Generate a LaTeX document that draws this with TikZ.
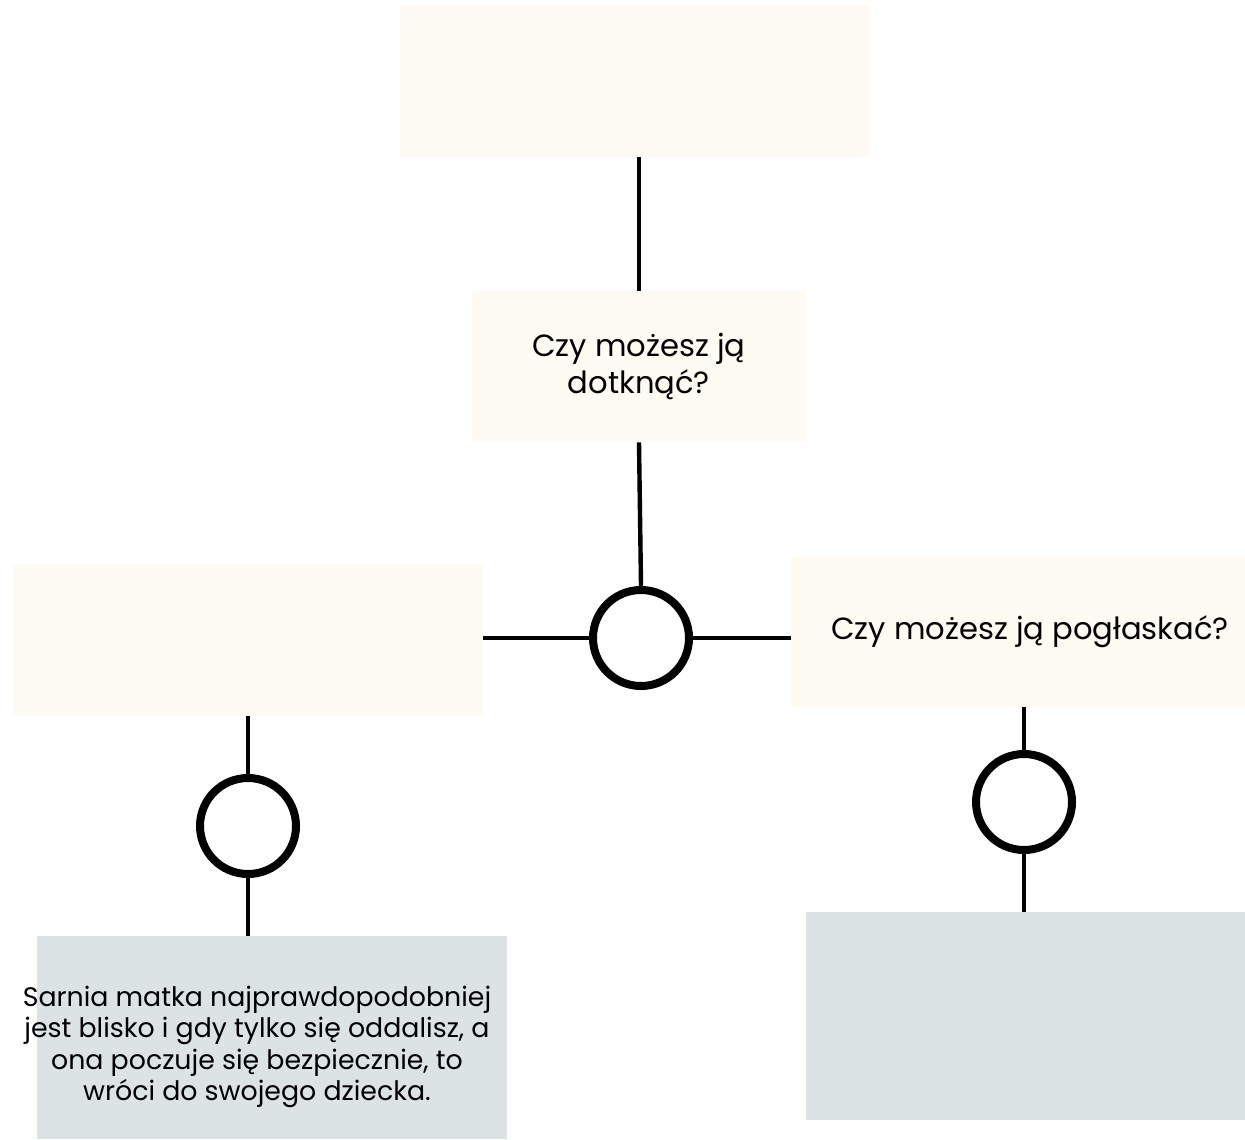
\documentclass[tikz,border=0pt]{standalone}
\usepackage{fontspec}
\setmainfont{Poppins}
\usetikzlibrary{positioning}
\definecolor{cream}{HTML}{FEFBF3}
\definecolor{slate}{HTML}{DCE3E5}

\begin{document}
\begin{tikzpicture}[x=0.5pt,y=-0.5pt,
    % styles for clarity
    question/.style={fill=cream, inner sep=0pt, align=center,
                     font=\fontsize{15.3}{18.5}\selectfont},
    answer/.style  ={fill=slate, inner sep=0pt},
    note/.style    ={align=center, inner sep=0pt,
                     font=\fontsize{13.4}{15.6}\selectfont},
    choice/.style  ={draw, circle, line width=4pt, minimum size=48pt, inner sep=0pt},
    link/.style    ={line width=2.2pt}
  ]
    \useasboundingbox (0,0) rectangle (1245,1139);

    \node[question, minimum width=234.5pt, minimum height=76pt](start) at (634.5,81) {};
    \node[question, minimum width=167pt, minimum height=75.5pt](touch) at (639,366.5)
      {Czy możesz ją\\dotknąć?};
    \node[choice](split) at (641,638) {};
    \node[question, minimum width=235pt, minimum height=76pt](yes) at (248,640) {};
    \node[question, minimum width=227pt, minimum height=75pt](stroke) at (1018,632)
      {\hspace*{12pt}Czy możesz ją pogłaskać?};
    \node[choice](left) at (248,826) {};
    \node[choice](right) at (1024,802) {};
    \node[answer, minimum width=235pt, minimum height=101.5pt](mother) at (272,1037.5) {};
    \node[note](motherText) at (257,1047)
      {Sarnia matka najprawdopodobniej\\jest blisko i gdy tylko się oddalisz, a\\
       ona poczuje się bezpiecznie, to\\wróci do swojego dziecka.};
    \node[answer, minimum width=219.5pt, minimum height=104pt](other) at (1025.5,1016) {};

    \draw[link] (touch.north |- start.south) -- (touch.north);
    \draw[link] (touch.south) -- (split.north);
    \draw[link] (split.west) -- (yes.east |- split.west);
    \draw[link] (split.east) -- (stroke.west |- split.east);
    \draw[link] (yes.south) -- (left.north);
    \draw[link] (left.south) -- (left |- mother.north);
    \draw[link] (right |- stroke.south) -- (right.north);
    \draw[link] (right.south) -- (right |- other.north);
  \end{tikzpicture}
\end{document}
